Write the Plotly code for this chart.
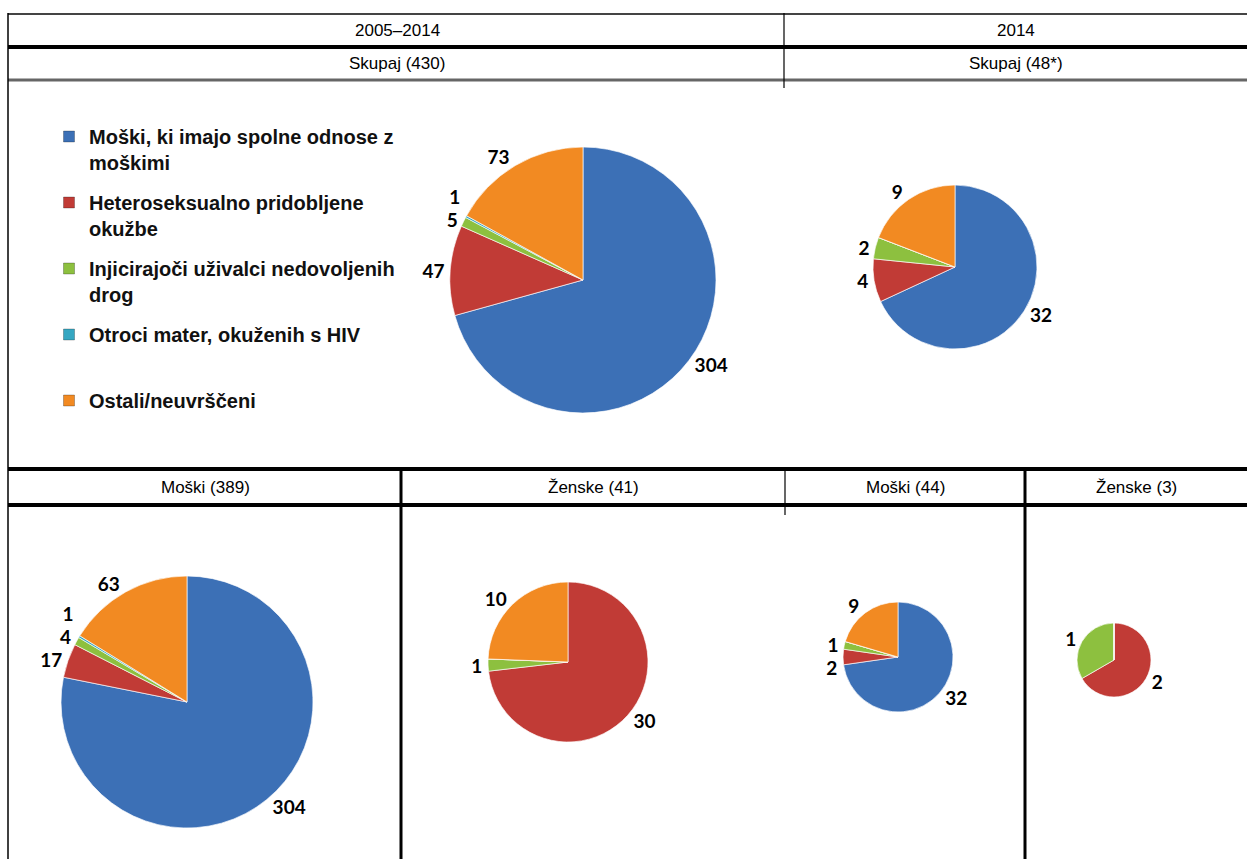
import plotly.graph_objects as go

# ---------------- data ----------------
categories = [
    "Moški, ki imajo spolne odnose z<br>moškimi",
    "Heteroseksualno pridobljene<br>okužbe",
    "Injicirajoči uživalci nedovoljenih<br>drog",
    "Otroci mater, okuženih s HIV<br> ",
    "Ostali/neuvrščeni",
]
total_2005_2014 = [304, 47, 5, 1, 73]
total_2014 = [32, 4, 2, 0, 9]
men_2005_2014 = [304, 17, 4, 1, 63]
women_2005_2014 = [0, 30, 1, 0, 10]
men_2014 = [32, 2, 1, 0, 9]
women_2014 = [0, 2, 1, 0, 0]

period_headers = ["2005–2014", "2014"]
total_headers = ["Skupaj (430)", "Skupaj (48*)"]
sex_headers = ["Moški (389)", "Ženske (41)", "Moški (44)", "Ženske (3)"]

# ---------------- style / layout ----------------
W, H = 1247, 859
colors = ["#3C70B6", "#C13B36", "#8DC03F", "#35A7C2", "#F28A22"]

pies = [
    (total_2005_2014, 583, 280, 133),
    (total_2014, 955, 267, 82),
    (men_2005_2014, 187, 702, 126),
    (women_2005_2014, 568, 662, 80),
    (men_2014, 898, 657, 55),
    (women_2014, 1114, 660, 37),
]

fig = go.Figure()
for vals, cx, cy, r in pies:
    fig.add_trace(go.Pie(
        labels=categories,
        values=vals,
        text=[str(v) if v > 0 else "" for v in vals],
        textinfo="text",
        textposition="outside",
        textfont=dict(family="Lato", size=19, color="black", weight="bold"),
        sort=False,
        direction="clockwise",
        rotation=0,
        marker=dict(colors=colors, line=dict(color="rgba(255,255,255,0.65)", width=1)),
        domain=dict(x=[(cx - r) / W, (cx + r) / W], y=[1 - (cy + r) / H, 1 - (cy - r) / H]),
        showlegend=False,
        hoverinfo="label+value",
    ))

# legend entries (one group per category so spacing can be set)
for i, (name, col) in enumerate(zip(categories, colors)):
    fig.add_trace(go.Scatter(
        x=[None], y=[None], mode="markers", name=name,
        marker=dict(symbol="square", size=11, color=col,
                    line=dict(color="rgba(0,0,0,0.25)", width=1)),
        legendgroup=f"g{i}", showlegend=True, hoverinfo="skip",
    ))

shapes = []
def hline(y, x0, x1, w, c="black"):
    shapes.append(dict(type="line", xref="x", yref="y", x0=x0, x1=x1, y0=y, y1=y,
                       line=dict(color=c, width=w)))
def vline(x, y0, y1, w, c="black"):
    shapes.append(dict(type="line", xref="x", yref="y", x0=x, x1=x, y0=y0, y1=y1,
                       line=dict(color=c, width=w)))

hline(14, 8, 1247, 2, "#444")
hline(47, 8, 1247, 4)
hline(80, 8, 1247, 3, "#666")
vline(8, 13, 859, 1.5)
vline(784, 13, 88, 1.2)
hline(469, 8, 1247, 4)
hline(505, 8, 1247, 4)
vline(401, 469, 859, 3)
vline(785, 469, 515, 1.2)
vline(1025, 469, 859, 3)

annotations = []
hdr_font = dict(family="Liberation Sans", size=17, color="black")
for txt, x in zip(period_headers, [397, 1016]):
    annotations.append(dict(x=x, y=30, xref="x", yref="y", text=txt, showarrow=False, font=hdr_font))
for txt, x in zip(total_headers, [397, 1016]):
    annotations.append(dict(x=x, y=63, xref="x", yref="y", text=txt, showarrow=False, font=hdr_font))
for txt, x in zip(sex_headers, [205, 593, 905, 1136]):
    annotations.append(dict(x=x, y=487, xref="x", yref="y", text=txt, showarrow=False, font=hdr_font))

fig.update_layout(
    width=W, height=H,
    margin=dict(l=0, r=0, t=0, b=0),
    paper_bgcolor="white", plot_bgcolor="white",
    xaxis=dict(range=[0, W], visible=False, fixedrange=True),
    yaxis=dict(range=[H, 0], visible=False, fixedrange=True),
    shapes=shapes,
    annotations=annotations,
    legend=dict(
        x=49 / W, y=1 - 117 / H, xanchor="left", yanchor="top",
        font=dict(family="Liberation Sans", size=20, color="#111", weight="bold"),
        valign="top", bgcolor="rgba(0,0,0,0)", itemwidth=30,
        tracegroupgap=11, traceorder="grouped",
    ),
)

post = (
    "document.body.style.margin='0';document.body.style.overflow='hidden';"
    "var s=document.createElement('style');s.innerHTML='path.textline{display:none}';"
    "document.head.appendChild(s);"
)
fig.write_html("out.html", config={"displayModeBar": False}, post_script=post)
